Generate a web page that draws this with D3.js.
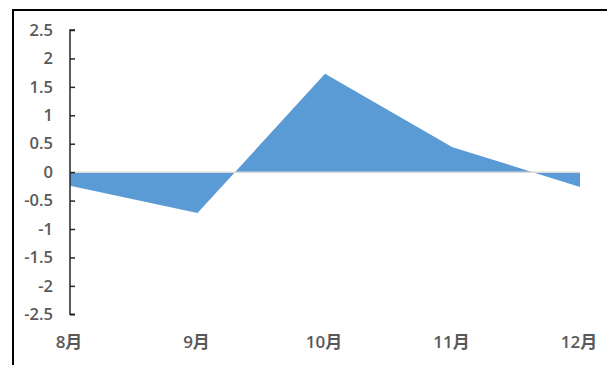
<!DOCTYPE html>
<html>
<head>
<meta charset="utf-8">
<script src="https://cdn.jsdelivr.net/npm/d3@7"></script>
<style>
  html, body { margin: 0; padding: 0; background: #fff; }
  svg { display: block; }
</style>
</head>
<body>
<svg id="chart" width="607" height="365"></svg>
<script>
// Monthly change values
const months = ["8月", "9月", "10月", "11月", "12月"];
const values = [-0.24, -0.72, 1.73, 0.44, -0.26];
const yTicks = [2.5, 2, 1.5, 1, 0.5, 0, -0.5, -1, -1.5, -2, -2.5];

const svg = d3.select("#chart");
const W = 607, H = 365;

// outer frame (runs off the right and bottom edges)
svg.append("rect")
  .attr("x", 13).attr("y", 10)
  .attr("width", W).attr("height", H)
  .attr("fill", "#fff")
  .attr("stroke", "#000")
  .attr("stroke-width", 2);

const x = d3.scalePoint().domain(months).range([70, 580]);
const y = d3.scaleLinear().domain([-2.5, 2.5]).range([314.3, 30]);

const pts = months.map((m, i) => ({ m, v: values[i] }));

// filled area between the series and zero
const area = d3.area()
  .x(d => x(d.m))
  .y0(y(0))
  .y1(d => y(d.v));

svg.append("path")
  .datum(pts)
  .attr("d", area)
  .attr("fill", "#5B9BD5");

// zero baseline
svg.append("line")
  .attr("x1", x(months[0])).attr("x2", x(months[months.length - 1]))
  .attr("y1", y(0)).attr("y2", y(0))
  .attr("stroke", "#d9d9d9")
  .attr("stroke-width", 1.5);

// y axis
const yAxis = d3.axisRight(y)
  .tickValues(yTicks)
  .tickSize(5)
  .tickFormat("");

const yg = svg.append("g")
  .attr("transform", `translate(${x(months[0])},0)`)
  .call(yAxis);
yg.select(".domain").attr("stroke", "#262626").attr("stroke-width", 1.5)
  .attr("d", `M5,${y(2.5)}H0V${y(-2.5)}H5`);
yg.selectAll(".tick line").attr("stroke", "#262626").attr("stroke-width", 1.5);

const fontFam = "'Open Sans', 'Noto Sans CJK SC', sans-serif";

svg.append("g").selectAll("text")
  .data(yTicks)
  .join("text")
  .attr("x", 53)
  .attr("y", d => y(d))
  .attr("dy", "0.35em")
  .attr("text-anchor", "end")
  .attr("font-family", fontFam)
  .attr("font-size", 16.5)
  .attr("font-weight", 600)
  .attr("fill", "#595959")
  .text(d => String(d));

// month labels
svg.append("g").selectAll("text")
  .data(months)
  .join("text")
  .attr("x", d => x(d) - 1)
  .attr("y", 348)
  .attr("text-anchor", "middle")
  .attr("font-family", fontFam)
  .attr("font-size", 17)
  .attr("font-weight", 600)
  .attr("fill", "#595959")
  .text(d => d);
</script>
</body>
</html>
